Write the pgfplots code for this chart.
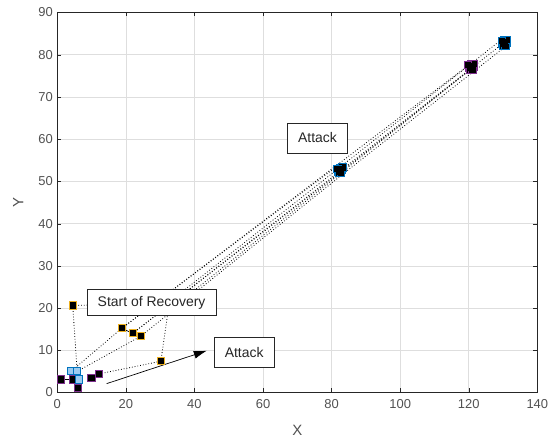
\documentclass[border=0pt]{standalone}
\usepackage{pgfplots}
\pgfplotsset{compat=1.18}
\usetikzlibrary{arrows.meta}
\usepackage{fontspec}
\setmainfont{Liberation Sans}
\definecolor{myorange}{HTML}{EDB120}
\definecolor{mypurple}{HTML}{7E2F8E}
\definecolor{myblue}{HTML}{0072BD}
\definecolor{mylblue}{HTML}{9CCBEF}
\definecolor{axgray}{HTML}{262626}
\definecolor{gridgray}{HTML}{DEDEDE}
\begin{document}
\begin{tikzpicture}[x=1bp,y=1bp]
\begin{axis}[
  scale only axis,
  width=480bp, height=380bp,
  xmin=0, xmax=140, ymin=0, ymax=90,
  xtick={0,20,...,140}, ytick={0,10,...,90},
  grid=major,
  major grid style={gridgray, line width=0.5pt},
  axis line style={axgray, line width=0.5pt},
  tick style={axgray},
  tick align=inside,
  major tick length=4bp,
  xticklabel style={font=\fontsize{13}{15}\selectfont, text=axgray!80, yshift=-3bp},
  yticklabel style={font=\fontsize{13}{15}\selectfont, text=axgray!80, xshift=-1bp},
  /pgf/number format/assume math mode=true,
  xlabel={X}, ylabel={Y},
  label style={font=\fontsize{15}{17}\selectfont, text=axgray!80},
  xlabel style={at={(axis description cs:0.5,-0.1)}, anchor=center},
  ylabel style={at={(axis description cs:-0.0813,0.5)}, anchor=center, rotate=0},
  clip=true,
]
% dotted trajectories
\addplot[black, dotted, line width=0.8pt] coordinates {(4.5,20.6) (5.8,5.0)};
\addplot[black, dotted, line width=0.8pt] coordinates {(4.5,20.6) (32.3,21.2) (129.6,83.6)};
\addplot[black, dotted, line width=0.8pt] coordinates {(30.2,7.4) (32.3,19.2) (120.0,76.2)};
\addplot[black, dotted, line width=0.8pt] coordinates {(18.8,15.2) (81.6,53.6)};
\addplot[black, dotted, line width=0.8pt] coordinates {(22.0,14.0) (83.2,52.6) (121.6,77.2)};
\addplot[black, dotted, line width=0.8pt] coordinates {(24.3,13.3) (83.4,51.8) (130.8,82.0)};
\addplot[black, dotted, line width=0.8pt] coordinates {(18.8,15.2) (120.4,77.8)};
\addplot[black, dotted, line width=0.8pt] coordinates {(22.0,14.0) (130.2,82.8)};
\addplot[black, dotted, line width=0.8pt] coordinates {(4.0,5.0) (18.8,15.2)};
\addplot[black, dotted, line width=0.8pt] coordinates {(5.8,5.0) (24.3,13.3)};
\addplot[black, dotted, line width=0.8pt] coordinates {(12.2,4.4) (30.2,7.4)};
% solid links
\addplot[black, line width=0.7pt] coordinates {(1.0,3.1) (4.5,3.1) (6.4,3.1)};
\addplot[black, line width=0.7pt] coordinates {(10.0,3.5) (12.2,4.4)};
\addplot[black, line width=0.7pt] coordinates {(18.8,15.2) (22.0,14.0) (24.3,13.3)};
% clusters
\addplot[only marks, mark=square*, mark size=3.6bp, mark options={fill=black, draw=myblue, line width=1pt}] coordinates {
(81.9,52.3) (82.5,53.2) (83.1,52.7) (82.2,51.9) (82.8,52.0) (83.2,53.3) (81.7,52.9)};
\addplot[only marks, mark=square*, mark size=3.6bp, mark options={fill=black, draw=mypurple, line width=1pt}] coordinates {
(120.1,76.9) (120.8,77.7) (121.4,77.1) (120.4,76.3) (121.1,76.5) (121.6,77.8) (119.8,77.5)};
\addplot[only marks, mark=square*, mark size=3.6bp, mark options={fill=black, draw=myblue, line width=1pt}] coordinates {
(129.8,82.6) (130.4,83.4) (131.0,82.8) (130.1,82.0) (130.7,82.2) (131.1,83.5) (129.6,83.2)};
\addplot[only marks, mark=square*, mark size=3.6bp, mark options={fill=black, draw=black, line width=1pt}] coordinates {
(82.5,52.6) (120.8,77.0) (130.3,82.8)};
% start points
\addplot[only marks, mark=square*, mark size=3.6bp, mark options={fill=black, draw=mypurple, line width=1pt}] coordinates {
(1.0,3.1) (4.5,3.1) (6.0,1.1) (10.0,3.5) (12.2,4.4)};
\addplot[only marks, mark=square*, mark size=3.6bp, mark options={fill=mylblue, draw=myblue, line width=1pt}] coordinates {
(4.0,5.0) (5.8,5.0) (6.4,3.1)};
% recovery points
\addplot[only marks, mark=square*, mark size=3.6bp, mark options={fill=black, draw=myorange, line width=1pt}] coordinates {
(4.5,20.6) (18.8,15.2) (22.0,14.0) (24.3,13.3) (30.2,7.4)};
% arrow
\addplot[black, line width=0.7pt, -{Latex[length=13bp,width=8bp]}] coordinates {(14.4,2.1) (43.6,9.9)};
% text boxes
\node[draw=axgray, fill=white, line width=0.7pt, font=\fontsize{14}{16}\selectfont, text=axgray, inner sep=2bp, minimum height=30bp, minimum width=60bp] at (axis cs:75.9,60.3) {Attack};
\node[draw=axgray, fill=white, line width=0.7pt, font=\fontsize{14}{16}\selectfont, text=axgray, inner sep=2bp, minimum height=26bp, minimum width=129bp] at (axis cs:27.5,21.3) {Start of Recovery};
\node[draw=axgray, fill=white, line width=0.7pt, font=\fontsize{14}{16}\selectfont, text=axgray, inner sep=2bp, minimum height=30bp, minimum width=60bp] at (axis cs:54.5,9.5) {Attack};
\end{axis}
\pgfresetboundingbox
\path ([xshift=-57.3bp,yshift=-45bp]current axis.south west) rectangle ([xshift=17.7bp,yshift=12.5bp]current axis.north east);
\end{tikzpicture}
\end{document}
